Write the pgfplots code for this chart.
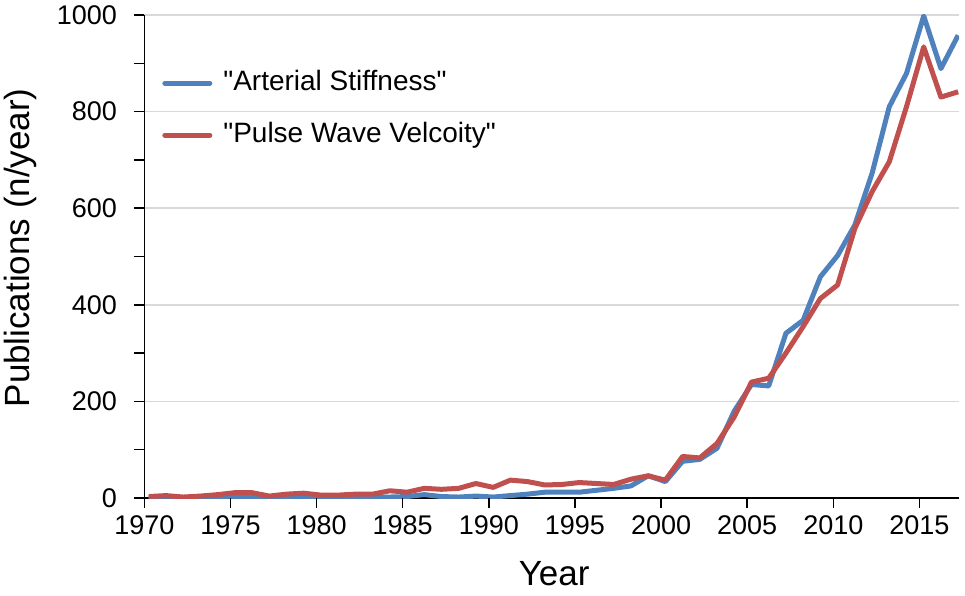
\documentclass[border=0pt]{standalone}
\usepackage{pgfplots}
\pgfplotsset{compat=1.18}
\usepackage{pgfplotstable}
\usepackage{fontspec}
\setmainfont{Liberation Sans}[Ligatures=TeXOff]
\definecolor{blueS}{HTML}{4F81BD}
\definecolor{redS}{HTML}{C0504D}
\definecolor{gridc}{HTML}{D9D9D9}

\pgfplotstableread{
year AS PWV
1970 1 3
1971 1 5
1972 0 2
1973 1 4
1974 1 7
1975 3 11
1976 3 11
1977 1 4
1978 1 8
1979 1 10
1980 1 6
1981 1 6
1982 1 8
1983 1 8
1984 2 15
1985 3 12
1986 7 20
1987 3 18
1988 2 20
1989 4 30
1990 2 22
1991 5 37
1992 8 34
1993 12 27
1994 12 28
1995 12 32
1996 16 30
1997 20 28
1998 25 39
1999 46 46
2000 34 37
2001 76 86
2002 80 83
2003 103 113
2004 180 168
2005 235 240
2006 232 248
2007 341 300
2008 368 355
2009 458 413
2010 502 441
2011 565 558
2012 672 634
2013 810 696
2014 879 810
2015 998 934
2016 889 830
2017 958 841
}\datatable

\begin{document}
\begin{tikzpicture}
\begin{axis}[
  at={(0pt,0pt)}, anchor=south west,
  scale only axis, width=814.6pt, height=483pt,
  xmin=1970, xmax=2017.3, ymin=0, ymax=1000,
  axis lines=left,
  axis line style={black, line width=1.5pt, -},
  xtick={1970,1975,...,2015},
  ytick={0,200,...,1000},
  minor ytick={100,300,...,900},
  tick align=outside,
  tick style={black, line width=1.5pt},
  ymajorgrids, grid style={gridc, line width=1.5pt},
  tick label style={font=\fontsize{27}{32}\selectfont, inner sep=0pt},
  xticklabel style={/pgf/number format/1000 sep={}, /pgf/number format/assume math mode=true, yshift=-13pt},
  yticklabel style={/pgf/number format/1000 sep={}, /pgf/number format/assume math mode=true, xshift=-23pt},
  xlabel={Year},
  ylabel={Publications (n/year)},
  label style={font=\fontsize{35}{40}\selectfont},
  xlabel style={at={(axis description cs:0.503,-0.157)}, anchor=center},
  ylabel style={at={(axis description cs:-0.152,0.518)}, anchor=center},
  legend style={at={(axis description cs:0.022,0.805)}, anchor=west,
    draw=none, fill=none, inner sep=0pt, outer sep=0pt,
    font=\fontsize{28}{32}\selectfont, row sep=26pt,
    nodes={text height=20pt, text depth=6pt, inner sep=0pt},
    /tikz/every odd column/.append style={column sep=11pt}},
  legend cell align=left,
  legend image code/.code={\draw[#1, line width=5pt, line cap=round] (0pt,0pt) -- (45pt,0pt);},
  after end axis/.code={
    \foreach \t in {1970,1975,...,2015} {\draw[black, line width=1.5pt] (axis cs:\t,0) -- ++(0pt,-10pt);}
    \foreach \t in {0,100,...,1000} {\draw[black, line width=1.5pt] (axis cs:1970,\t) -- ++(-10pt,0pt);}
  },
]
\addplot[blueS, line width=5pt, line join=round] table[x expr=\thisrow{year}+0.25, y=AS] {\datatable};
\addlegendentry{"Arterial Stiffness"}
\addplot[redS, line width=5pt, line join=round] table[x expr=\thisrow{year}+0.25, y=PWV] {\datatable};
\addlegendentry{"Pulse Wave Velcoity"}
\end{axis}
\pgfresetboundingbox
\path[use as bounding box] (-144.4pt,-97pt) rectangle (820.6pt,498pt);
\end{tikzpicture}
\end{document}
